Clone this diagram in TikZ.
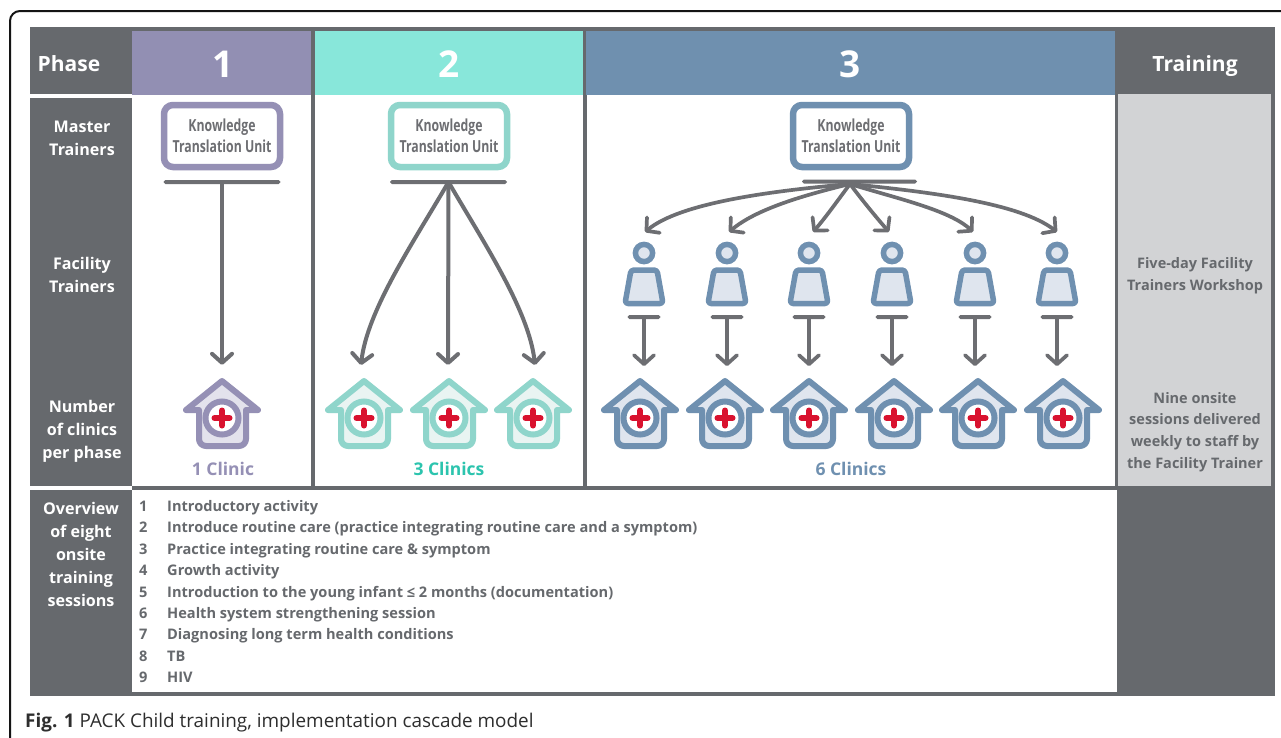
\documentclass[tikz,border=0pt]{standalone}
\usepackage{fontspec}
\setmainfont{Open Sans}
\newfontfamily\condfont[FakeStretch=0.74]{Open Sans}
\usetikzlibrary{arrows.meta}
\definecolor{dk}{HTML}{66696D}
\definecolor{ln}{HTML}{6D6E72}
\definecolor{pnl}{HTML}{D2D3D5}
\definecolor{hp}{HTML}{928FB3}
\definecolor{ht}{HTML}{88E7DA}
\definecolor{hb}{HTML}{6F90AF}
\definecolor{sp}{HTML}{9590B5}
\definecolor{st}{HTML}{8FD5CB}
\definecolor{sb}{HTML}{6F90B0}
\definecolor{fp}{HTML}{E3E2EC}
\definecolor{ft}{HTML}{E9F4F2}
\definecolor{fb}{HTML}{DFE5EE}
\definecolor{rd}{HTML}{D9122F}
\definecolor{tt}{HTML}{2CC4AE}
\tikzset{
  x=1pt,y=-1pt,
  ktu/.style={draw=#1,line width=6.5pt,rounded corners=9pt,fill=white,minimum width=116pt,minimum height=62pt,inner sep=0pt,align=center,text=ln,font=\condfont\bfseries\fontsize{16.6}{21}\selectfont},
  tbar/.style={fill=ln,rounded corners=1.8pt,minimum height=4pt,inner sep=0pt,minimum width=#1},
  conn/.style={draw=ln,line width=4pt,-{Straight Barb[length=9pt,width=20pt,line width=4pt,round]}},
  connthin/.style={draw=ln,line width=3.7pt,-{Straight Barb[length=9pt,width=20pt,line width=3.7pt,round]}},
  anch/.style={inner sep=0pt,minimum width=78pt,minimum height=84pt},
  lbl/.style={text=white,align=center,font=\bfseries\fontsize{16.1}{23}\selectfont},
  hdr/.style={text=white,font=\bfseries\fontsize{21}{25}\selectfont},
  num/.style={text=white,font=\bfseries\fontsize{37}{40}\selectfont},
  rgt/.style={text=dk,align=center,font=\bfseries\fontsize{14.5}{21.7}\selectfont},
  cnt/.style={font=\bfseries\fontsize{17.5}{21}\selectfont},
  ses/.style={text=dk,anchor=base west,inner sep=0pt,font=\bfseries\fontsize{14.58}{18}\selectfont}
}
% name, x, stroke, fill
\newcommand\clinic[4]{%
  \begin{scope}[shift={(#2,0)}]
    \draw[draw=#3,fill=#4,line width=6pt,line join=round]
      (0,381) -- (36,410) -- (24,410) {[rounded corners=7pt] -- (24,446) -- (-23,446)} -- (-23,410) -- (-36,410) -- cycle;
    \draw[draw=#3,fill=white,line width=6pt] (0,418) circle[radius=16.5pt];
    \draw[rd,line width=6pt,line cap=round] (-7.5,418) -- (7.5,418) (0,410.5) -- (0,425.5);
    \node[anch] (#1) at (0,407) {};
  \end{scope}}
% name, x
\newcommand\person[2]{%
  \begin{scope}[shift={(#2,0)}]
    \draw[draw=sb,fill=fb,line width=5.5pt] (0,253) circle[radius=8.6pt];
    \draw[draw=sb,fill=fb,line width=5.5pt,line join=round,rounded corners=3pt]
      (-13,270) -- (13,270) -- (19,303.5) -- (-19,303.5) -- cycle;
    \node[inner sep=0pt,minimum width=44pt,minimum height=64pt] (#1) at (0,274) {};
    \node[tbar=33pt] (#1bar) at (0,317) {};
    \coordinate (#1tip) at (0,366);
    \draw[connthin] (#1bar.center) -- (#1tip);
  \end{scope}}
\newcommand\sess[3]{%
  \node[ses] (n#1) at (139,#2) {#1};
  \node[ses] (t#1) at (167,#2) {#3};}
\begin{document}
\begin{tikzpicture}
\useasboundingbox (0,0) rectangle (1281,737);
\fill[white] (0,0) rectangle (1281,737);
% outer frame
\draw[black!92,line width=2pt] (10,740) -- (10,21) arc[start angle=180,end angle=90,radius=10pt] -- (1290,11);
% table ground
\fill[dk] (30,27) rectangle (1275,696);
\fill[white] (30,94) rectangle (132,98);
\fill[white] (30,486) rectangle (132,490);
\fill[hp] (132,31) rectangle (311,95);
\fill[ht] (315,31) rectangle (583,95);
\fill[hb] (586,31) rectangle (1115,95);
\fill[white] (132,95) rectangle (311,486);
\fill[white] (315,95) rectangle (583,486);
\fill[white] (586.5,95) rectangle (1115,486);
\fill[white] (132,490) rectangle (1117,692);
\fill[pnl] (1118,94) rectangle (1271,486);
% headers
\node[hdr,anchor=base] (hphase) at (69,71.5) {Phase};
\node[hdr,anchor=base] (htrain) at (1195,71.5) {Training};
\node[num] (h1) at (223,64) {1};
\node[num] (h2) at (449,64) {2};
\node[num] (h3) at (850,64) {3};
% left labels
\node[lbl] (lmaster) at (82,138) {Master\\Trainers};
\node[lbl] (lfac) at (82,275) {Facility\\Trainers};
\node[lbl] (lnum) at (82,431) {Number\\of clinics\\per phase};
\node[lbl] (lover) at (81,554) {Overview\\of eight\\onsite\\training\\sessions};
% right labels
\node[rgt] (rfive) at (1195,276) {Five-day Facility\\Trainers Workshop};
\node[rgt] (rnine) at (1195,432) {Nine onsite\\sessions delivered\\weekly to staff by\\the Facility Trainer};
% knowledge translation units
\node[ktu=sp] (k1) at (222,136) {Knowledge\\Translation Unit};
\node[ktu=st] (k2) at (449,136) {Knowledge\\Translation Unit};
\node[ktu=sb] (k3) at (851,136) {Knowledge\\Translation Unit};
\node[tbar=117pt] (b1) at (222,182) {};
\node[tbar=117pt] (b2) at (448.5,182) {};
\node[tbar=115pt] (b3) at (859.5,181.5) {};
\coordinate (hub3) at (850,184);
% clinics
\clinic{c1}{222}{sp}{fp}
\clinic{c2a}{364}{st}{ft}
\clinic{c2b}{449}{st}{ft}
\clinic{c2c}{533}{st}{ft}
\clinic{c3a}{640}{sb}{fb}
\clinic{c3b}{725}{sb}{fb}
\clinic{c3c}{809}{sb}{fb}
\clinic{c3d}{894}{sb}{fb}
\clinic{c3e}{978}{sb}{fb}
\clinic{c3f}{1063}{sb}{fb}
% phase 1 and 2 connectors
\coordinate (t2a) at (361,365);
\coordinate (t2b) at (448,365);
\coordinate (t2c) at (535,365);
\draw[conn] (b1.center) -- (c1.north);
\draw[conn] (b2.center) .. controls (415,240) and (367,310) .. (t2a);
\draw[conn] (b2.center) -- (t2b);
\draw[conn] (b2.center) .. controls (482,240) and (529,310) .. (t2c);
% phase 3 trainers
\person{p1}{644}
\person{p2}{727}
\person{p3}{809}
\person{p4}{892}
\person{p5}{975}
\person{p6}{1057}
\coordinate (u1) at (645,232);
\coordinate (u2) at (729,232);
\coordinate (u3) at (813,232);
\coordinate (u4) at (889,232);
\coordinate (u5) at (973,232);
\coordinate (u6) at (1057,232);
\draw[connthin] (hub3) .. controls (770,191) and (680,203) .. (u1);
\draw[connthin] (hub3) .. controls (800,196) and (755,210) .. (u2);
\draw[connthin] (hub3) .. controls (838,200) and (826,217) .. (u3);
\draw[connthin] (hub3) .. controls (862,200) and (876,217) .. (u4);
\draw[connthin] (hub3) .. controls (895,198) and (950,210) .. (u5);
\draw[connthin] (hub3) .. controls (930,192) and (1020,203) .. (u6);
% counts
\node[cnt,text=sp] (n1c) at (223,468.5) {1 Clinic};
\node[cnt,text=tt] (n3c) at (449,468.5) {3 Clinics};
\node[cnt,text=sb] (n6c) at (851,468.5) {6 Clinics};
% sessions
\sess{1}{511}{Introductory activity}
\sess{2}{532.5}{Introduce routine care (practice integrating routine care and a symptom)}
\sess{3}{554}{Practice integrating routine care \& symptom}
\sess{4}{575.5}{Growth activity}
\sess{5}{597}{Introduction to the young infant ≤ 2 months (documentation)}
\sess{6}{618}{Health system strengthening session}
\sess{7}{639.5}{Diagnosing long term health conditions}
\sess{8}{661}{TB}
\sess{9}{682}{HIV}
% caption
\node[anchor=base west,inner sep=0pt,text=black!82,font=\fontsize{18.9}{22}\selectfont] (cap) at (25,727) {\textbf{Fig. 1} PACK Child training, implementation cascade model};
\end{tikzpicture}
\end{document}
